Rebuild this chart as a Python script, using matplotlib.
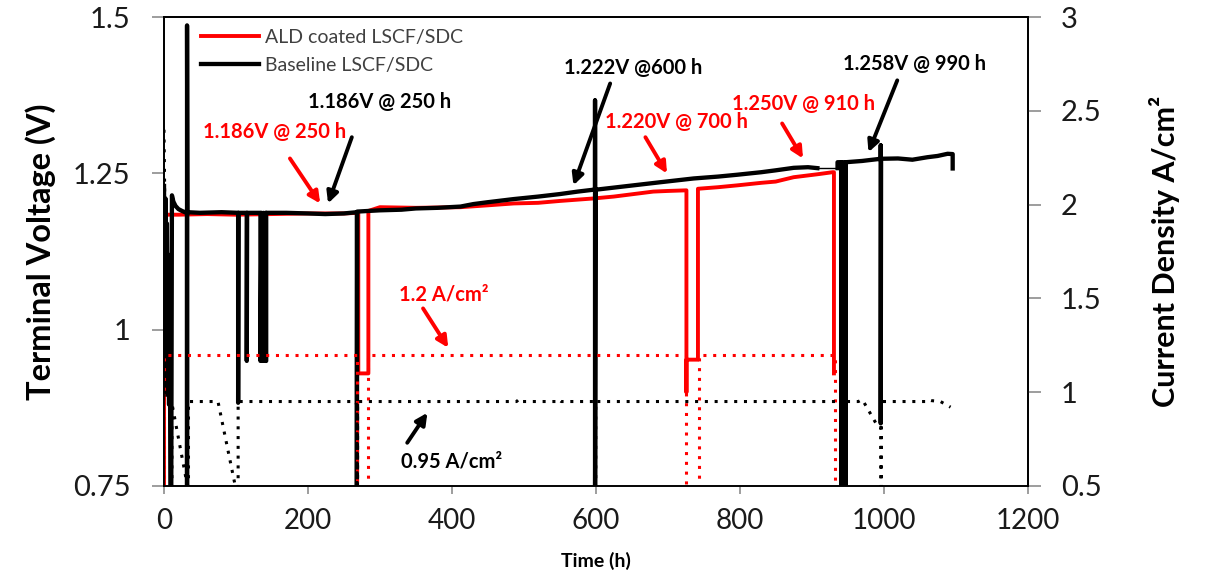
import matplotlib
matplotlib.use("Agg")
import matplotlib.pyplot as plt

plt.rcParams['font.family'] = ['Lato', 'DejaVu Sans']

# ---------------- data ----------------
# ALD coated LSCF/SDC : terminal voltage (V) vs time (h)
ald_t = [0, 0, 20, 60, 100, 150, 200, 250, 270, 270, 284, 284, 300, 350, 412, 450,
         486, 520, 550, 597, 625, 680, 700, 726, 726, 726, 742, 742, 770, 797, 830,
         850, 875, 910, 929, 931, 931]
ald_v = [0.70, 1.184, 1.184, 1.185, 1.184, 1.185, 1.186, 1.186, 1.187, 0.93, 0.93, 1.19,
         1.196, 1.195, 1.196, 1.199, 1.202, 1.203, 1.206, 1.21, 1.213, 1.221, 1.222,
         1.223, 0.90, 0.952, 0.952, 1.2255, 1.228, 1.231, 1.235, 1.237, 1.244, 1.249,
         1.252, 1.252, 0.93]

# Baseline LSCF/SDC : terminal voltage (V) vs time (h)
base_t = [0, 1, 2, 3, 4, 5, 6, 7, 8, 9, 10, 11, 13, 16, 20, 25, 29, 32, 32, 32, 32.5,
          50, 80, 103, 103, 103.5, 115, 115, 115.5, 134, 134, 135.5, 137, 138.5, 140,
          141.5, 141.5, 142, 142, 170, 200, 224, 250, 268, 268, 268.5, 300, 330, 350,
          380, 412, 430, 450, 486, 520, 550, 575, 597, 599, 599, 599, 600, 630, 660,
          690, 736, 770, 797, 830, 850, 875, 895, 908]
base_v = [1.23, 0.96, 1.21, 0.90, 1.17, 0.97, 1.12, 0.88, 1.05, 0.70, 0.70, 1.215,
          1.205, 1.198, 1.193, 1.19, 1.188, 1.188, 0.70, 1.487, 1.188, 1.187, 1.188,
          1.187, 0.883, 1.187, 1.187, 0.95, 1.187, 1.187, 0.95, 1.187, 0.95, 1.187,
          0.95, 1.187, 0.95, 0.95, 1.187, 1.187, 1.186, 1.185, 1.186, 1.188, 0.70,
          1.189, 1.191, 1.192, 1.194, 1.195, 1.197, 1.201, 1.204, 1.209, 1.213, 1.217,
          1.221, 1.224, 1.224, 1.367, 0.70, 1.224, 1.228, 1.232, 1.236, 1.242, 1.245,
          1.248, 1.252, 1.255, 1.259, 1.26, 1.2585]
gap_t = [908, 936]
gap_v = [1.2585, 1.2585]
base2_t = [936, 936, 941, 941, 941.5, 947, 947, 947.5, 970, 996, 996, 996, 996.5,
           1020, 1040, 1061, 1075, 1089, 1096, 1096]
base2_v = [1.2585, 1.268, 1.268, 0.70, 1.268, 1.268, 0.70, 1.268, 1.270, 1.2735,
           1.295, 0.85, 1.2735, 1.274, 1.272, 1.276, 1.278, 1.2815, 1.281, 1.258]

# current densities (A/cm2) vs time (h)
ald_i_t = [0, 0, 268, 268, 284, 284, 725, 725, 743, 743, 932, 932]
ald_i = [0.0, 1.2, 1.2, 0.0, 0.0, 1.2, 1.2, 0.0, 0.0, 1.2, 1.2, 0.0]

base_i_t = [0, 4, 10, 10, 11, 11, 32, 32, 34, 34, 36, 75, 99, 99, 103, 103, 266,
            268, 268, 269, 269, 490, 494, 498, 547, 549, 552, 599, 599, 600, 600,
            941, 941, 947, 947, 965, 970, 972, 993, 996, 996, 997, 997, 1058, 1061,
            1066, 1079, 1093]
base_i = [2.4, 0.95, 0.95, 0.0, 0.0, 0.94, 0.51, 0.0, 0.0, 0.95, 0.95, 0.95, 0.5,
          0.0, 0.0, 0.95, 0.95, 0.93, 0.0, 0.0, 0.95, 0.95, 0.965, 0.95, 0.95, 0.96,
          0.95, 0.95, 0.0, 0.0, 0.95, 0.95, 0.0, 0.0, 0.95, 0.95, 0.96, 0.95, 0.81,
          0.81, 0.0, 0.0, 0.95, 0.95, 0.96, 0.955, 0.95, 0.92]

# annotations: (text, colour, text x, text y, arrow start x, y, arrow tip x, y)
notes = [
    ("1.186V @ 250 h", "red",   154, 1.316, 175, 1.274, 217, 1.202),
    ("1.186V @ 250 h", "black", 300, 1.365, 261, 1.308, 228, 1.202),
    ("1.222V @600 h",  "black", 652, 1.419, 620, 1.394, 569, 1.231),
    ("1.220V @ 700 h", "red",   712, 1.332, 669, 1.308, 699, 1.250),
    ("1.250V @ 910 h", "red",   889, 1.361, 859, 1.330, 888, 1.274),
    ("1.258V @ 990 h", "black", 1043, 1.425, 1019, 1.399, 979, 1.284),
    ("1.2 A/cm²",      "red",   389, 1.056, 360, 1.034, 395, 0.971),
    ("0.95 A/cm²",     "black", 400, 0.789, 338, 0.819, 366, 0.867),
]

x_ticks = [0, 200, 400, 600, 800, 1000, 1200]
v_ticks = [0.75, 1.0, 1.25, 1.5]
v_ticklabels = ["0.75", "1", "1.25", "1.5"]
i_ticks = [0.5, 1.0, 1.5, 2.0, 2.5, 3.0]
i_ticklabels = ["0.5", "1", "1.5", "2", "2.5", "3"]

# ---------------- figure ----------------
fig = plt.figure(figsize=(12.06, 5.75), dpi=100)
ax = fig.add_axes([0.136, 0.155, 0.716, 0.815])
ax2 = ax.twinx()

red = "#ff0000"
ax.plot(ald_t, ald_v, color=red, lw=2.8, zorder=3, label="ALD coated LSCF/SDC")
ax.plot(base_t, base_v, color="black", lw=3.1, zorder=4, label="Baseline LSCF/SDC")
ax.plot(gap_t, gap_v, color="black", lw=1.0, zorder=4)
ax.plot(base2_t, base2_v, color="black", lw=3.1, zorder=4)

dots = (0, (1, 2.2))
ax2.plot(ald_i_t, ald_i, color=red, lw=2.2, linestyle=dots, zorder=2)
ax2.plot(base_i_t, base_i, color="black", lw=2.2, linestyle=dots, zorder=2)

ax.set_xlim(0, 1200)
ax.set_ylim(0.75, 1.5)
ax2.set_ylim(0.5, 3.0)

ax.set_xticks(x_ticks)
ax.set_xticklabels([str(v) for v in x_ticks])
ax.set_yticks(v_ticks)
ax.set_yticklabels(v_ticklabels)
ax2.set_yticks(i_ticks)
ax2.set_yticklabels(i_ticklabels)

tick_col = "#8c8c8c"
ax.tick_params(axis='x', direction='out', length=6, width=1.2, color=tick_col,
               labelsize=20, labelcolor="#1a1a1a", pad=10)
ax.tick_params(axis='y', direction='out', length=9, width=1.2, color=tick_col,
               labelsize=21, labelcolor="#1a1a1a", pad=15)
ax2.tick_params(axis='y', direction='out', length=9, width=1.2, color=tick_col,
                labelsize=21, labelcolor="#1a1a1a", pad=15)
for a in (ax, ax2):
    for s in a.spines.values():
        s.set_color("black")
        s.set_linewidth(1.3)
ax.spines['bottom'].set_color("#555555")

ax.set_xlabel("Time (h)", fontsize=14, fontweight='bold', labelpad=13)
ax.set_ylabel("Terminal Voltage (V)", fontsize=23.5, fontweight='bold', labelpad=12)
ax2.set_ylabel("Current Density A/cm²", fontsize=22, fontweight='bold', labelpad=34)

for txt, col, tx, ty, sx, sy, ex, ey in notes:
    c = red if col == "red" else "black"
    ax.text(tx, ty, txt, color=c, fontsize=14.5, fontweight='bold',
            ha='center', va='center', zorder=6)
    ax.annotate("", xy=(ex, ey), xytext=(sx, sy),
                arrowprops=dict(arrowstyle='-|>', color=c, lw=2.8,
                                mutation_scale=17, shrinkA=0, shrinkB=0),
                zorder=6)

leg = ax.legend(loc='upper left', bbox_to_anchor=(0.022, 1.012), frameon=False,
                fontsize=14, handlelength=3.0, handletextpad=0.3, labelspacing=0.55)
for t in leg.get_texts():
    t.set_color("#404040")

fig.savefig("out.png", dpi=100)
